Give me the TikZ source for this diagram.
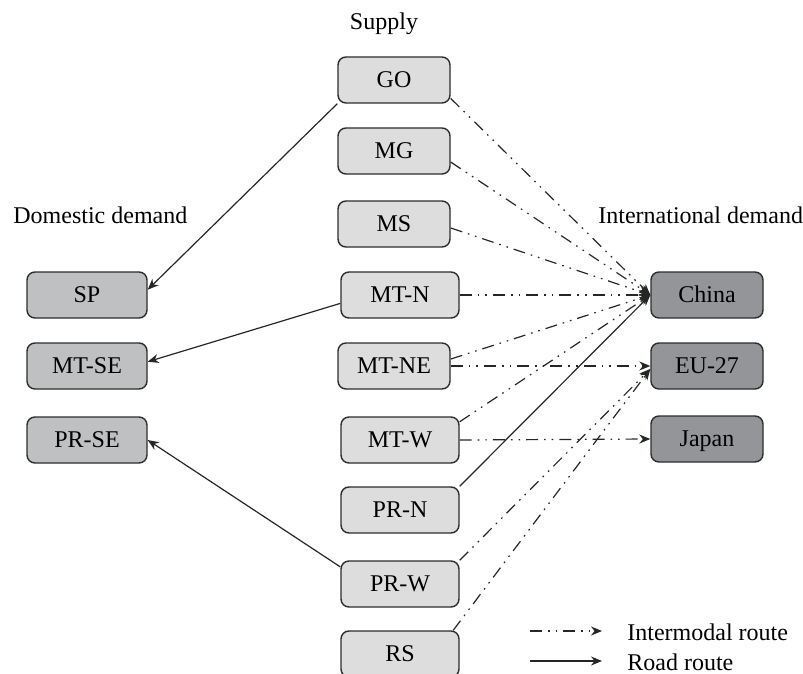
\documentclass[tikz,border=0pt]{standalone}
\usepackage{fontspec}
\setmainfont{Liberation Serif}
\usetikzlibrary{arrows.meta}
\definecolor{supplyfill}{RGB}{221,221,222}
\definecolor{domfill}{RGB}{191,192,194}
\definecolor{intlfill}{RGB}{148,149,152}
\definecolor{boxline}{RGB}{45,45,45}
\tikzset{
    box/.style={draw=boxline, line width=0.7pt, rounded corners=4pt,
        minimum height=23pt, text height=7.9pt, text depth=0pt, inner sep=0pt},
    supplybox/.style={box, fill=supplyfill, minimum width=56pt},
    supplywide/.style={box, fill=supplyfill, minimum width=59pt},
    domesticbox/.style={box, fill=domfill, minimum width=60pt},
    intlbox/.style={box, fill=intlfill, minimum width=56pt},
    road/.style={draw=black!85, line width=0.6pt,
        -{Stealth[length=5.5pt, width=4.5pt]}},
    intermodal/.style={road,
        dash pattern=on 6pt off 3pt on 0.8pt off 3pt on 0.8pt off 3pt}
}

\begin{document}
\begin{tikzpicture}[x=0.5pt, y=-0.5pt, font=\fontsize{12}{14}\selectfont]
        \clip (0, 0) rectangle (803, 674);
        % headings
        \node[anchor=base, inner sep=0pt] (supply) at (384, 30) {Supply};
        \node[anchor=base west, inner sep=0pt] (domestic) at (13, 223) {Domestic demand};
        \node[anchor=base west, inner sep=0pt] (international) at (598, 223) {International demand};
        % supply
        \node[supplybox] (GO) at (394, 80) {GO};
        \node[supplybox] (MG) at (394, 151) {MG};
        \node[supplybox] (MS) at (394, 224) {MS};
        \node[supplywide] (MTN) at (400, 295) {MT-N};
        \node[supplybox] (MTNE) at (394, 366) {MT-NE};
        \node[supplywide] (MTW) at (400, 440) {MT-W};
        \node[supplywide] (PRN) at (400, 510) {PR-N};
        \node[supplywide] (PRW) at (400, 584) {PR-W};
        \node[supplywide] (RS) at (400, 654) {RS};
        % demand
        \node[domesticbox] (SP) at (87, 295) {SP};
        \node[domesticbox] (MTSE) at (87, 366) {MT-SE};
        \node[domesticbox] (PRSE) at (87, 440) {PR-SE};
        \node[intlbox] (China) at (707, 295) {China};
        \node[intlbox] (EU) at (707, 366) {EU-27};
        \node[intlbox] (Japan) at (707, 439) {Japan};
        % road routes
        \draw[road] (GO.south west) -- (SP.5);
        \draw[road] (MTN.188) -- (MTSE.4);
        \draw[road] (PRW.164) -- (PRSE.east);
        \draw[road] (PRN.north east) -- (China.west);
        % intermodal routes
        \draw[intermodal] (GO.-18) -- (China.west);
        \draw[intermodal] (MG.-11) -- (China.west);
        \draw[intermodal] (MS.-4) -- (China.west);
        \draw[intermodal] (MTN.east) -- (China.west);
        \draw[intermodal] (MTNE.7) -- (China.west);
        \draw[intermodal] (MTW.17) -- (China.west);
        \draw[intermodal] (MTNE.east) -- (EU.west);
        \draw[intermodal] (PRW.north east) -- (EU.183);
        \draw[intermodal] (RS.24) -- (EU.183);
        \draw[intermodal] (MTW.east) -- (Japan.west);
        % legend
        \coordinate (imA) at (530, 631);
        \coordinate (imB) at (602, 631);
        \coordinate (rdA) at (530, 661);
        \coordinate (rdB) at (602, 661);
        \draw[intermodal] (imA) -- (imB);
        \draw[road] (rdA) -- (rdB);
        \node[anchor=base west, inner sep=0pt] (imlabel) at (627, 640) {Intermodal route};
        \node[anchor=base west, inner sep=0pt] (rdlabel) at (627, 670) {Road route};
    \end{tikzpicture}
\end{document}
